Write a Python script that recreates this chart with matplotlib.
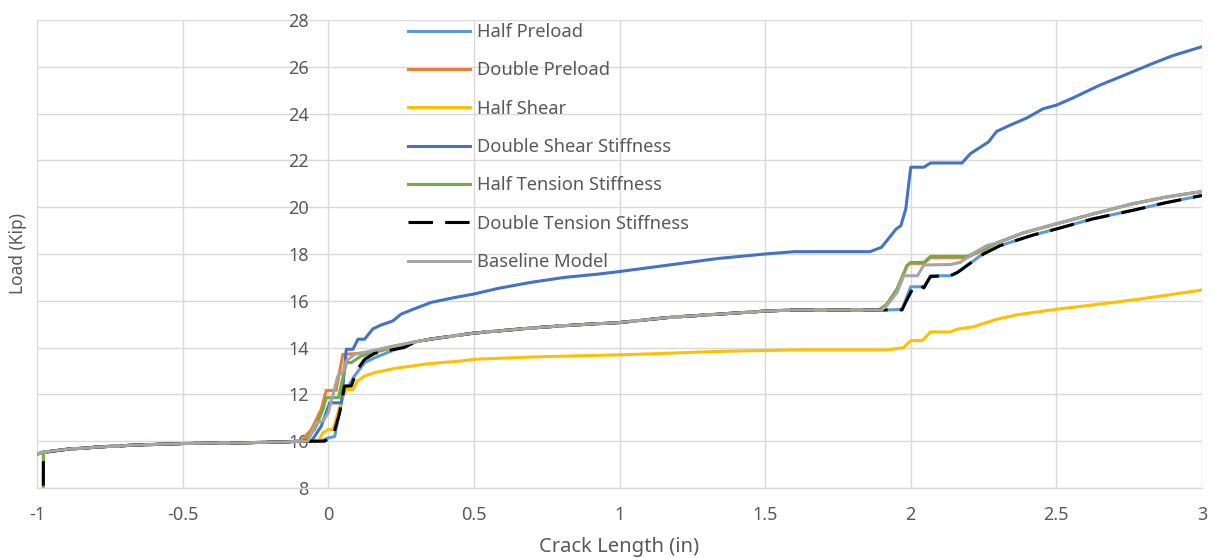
import matplotlib
matplotlib.use("Agg")
import matplotlib.pyplot as plt
import numpy as np

# ---------------- data ----------------
# shared start of the curves (x < -0.1)
start_x = [-1.0, -0.98]
start_y = [9.44, 9.53]
drop_x = [-0.98, -0.978]          # tension-stiffness runs start from zero load
drop_y = [0.0, 9.52]
left_x = [-0.9, -0.78, -0.67, -0.5, -0.3, -0.15]
left_y = [9.65, 9.76, 9.83, 9.90, 9.93, 9.97]

# shared middle part (0.3 .. 1.89)
mid_x = [0.3, 0.35, 0.5, 0.7, 0.85, 1.0, 1.17, 1.34, 1.5, 1.6, 1.89]
mid_y = [14.25, 14.36, 14.62, 14.84, 14.97, 15.07, 15.29, 15.43, 15.56, 15.61, 15.61]

# shared tails after the second jump
upper_tail_x = [2.295, 2.386, 2.5, 2.625, 2.76, 2.875, 3.0]
upper_tail_y = [18.47, 18.90, 19.29, 19.71, 20.14, 20.43, 20.67]
lower_tail_x = [2.307, 2.42, 2.5, 2.625, 2.76, 2.875, 3.0]
lower_tail_y = [18.36, 18.81, 19.07, 19.50, 19.86, 20.19, 20.50]

# Half Preload
hp_j0_x = [-0.1, -0.024, 0.0, 0.022, 0.05, 0.062, 0.09, 0.125, 0.16, 0.216]
hp_j0_y = [10.0, 10.02, 10.14, 10.2, 11.93, 12.2, 12.79, 13.36, 13.57, 13.85]
hp_j2_x = [1.918, 1.97, 2.0, 2.045, 2.068, 2.136, 2.16, 2.216, 2.25]
hp_j2_y = [15.61, 15.63, 16.6, 16.6, 17.07, 17.07, 17.21, 17.71, 18.04]

# Double Preload
dp_j0_x = [-0.093, -0.058, -0.024, -0.007, 0.027, 0.05, 0.113, 0.16, 0.2]
dp_j0_y = [10.0, 10.5, 11.36, 12.17, 12.17, 13.71, 13.76, 13.86, 14.0]
dp_j2_x = [1.89, 1.918, 1.953, 1.987, 2.0, 2.045, 2.068, 2.193, 2.239]
dp_j2_y = [15.61, 15.86, 16.5, 17.5, 17.6, 17.6, 17.85, 17.85, 18.12]

# Half Shear
hs_x = [-0.1, -0.035, -0.018, 0.0, 0.016, 0.05, 0.062, 0.085, 0.1, 0.125, 0.16,
        0.228, 0.285, 0.342, 0.457, 0.5, 0.7, 1.0, 1.17, 1.34, 1.6, 1.92, 1.975,
        2.0, 2.04, 2.068, 2.136, 2.16, 2.216, 2.25, 2.295, 2.364, 2.5, 2.65,
        2.784, 2.9, 3.0]
hs_y = [10.0, 10.0, 10.36, 10.5, 10.5, 11.93, 12.21, 12.21, 12.57, 12.79, 12.93,
        13.11, 13.21, 13.31, 13.43, 13.5, 13.6, 13.69, 13.76, 13.84, 13.9, 13.9, 14.0,
        14.3, 14.3, 14.67, 14.67, 14.79, 14.89, 15.03, 15.21, 15.4, 15.64, 15.86,
        16.07, 16.28, 16.46]

# Double Shear Stiffness
ds_x = [-0.1, -0.058, -0.024, 0.005, 0.045, 0.062, 0.085, 0.102, 0.125, 0.153,
        0.18, 0.222, 0.25, 0.284, 0.353, 0.434, 0.5, 0.583, 0.697, 0.811, 0.926,
        1.0, 1.17, 1.34, 1.5, 1.6, 1.86, 1.9, 1.95, 1.966, 1.983, 2.0, 2.045,
        2.068, 2.176, 2.205, 2.267, 2.295, 2.34, 2.398, 2.455, 2.5, 2.557, 2.648,
        2.739, 2.83, 2.898, 3.0]
ds_y = [10.0, 10.0, 10.64, 11.64, 11.64, 13.93, 13.93, 14.36, 14.36, 14.8,
        14.96, 15.14, 15.43, 15.6, 15.93, 16.14, 16.29, 16.53, 16.79, 17.0, 17.14,
        17.25, 17.53, 17.81, 18.0, 18.1, 18.1, 18.29, 19.07, 19.21, 19.93, 21.71, 21.71,
        21.89, 21.89, 22.29, 22.79, 23.24, 23.5, 23.81, 24.21, 24.36, 24.67, 25.21,
        25.67, 26.14, 26.47, 26.86]

# Half Tension Stiffness
ht_j0_x = [-0.08, -0.047, -0.018, -0.007, 0.035, 0.062, 0.079, 0.113, 0.18, 0.22]
ht_j0_y = [10.0, 10.5, 11.36, 11.86, 11.86, 13.36, 13.36, 13.64, 13.86, 14.0]
ht_j2_x = [1.895, 1.918, 1.953, 1.987, 2.0, 2.045, 2.068, 2.193, 2.239]
ht_j2_y = [15.61, 15.86, 16.5, 17.5, 17.64, 17.64, 17.9, 17.9, 18.14]

# Double Tension Stiffness
dt_j0_x = [-0.1, -0.013, 0.016, 0.039, 0.056, 0.079, 0.1, 0.125, 0.16, 0.216, 0.26]
dt_j0_y = [10.0, 10.0, 10.21, 11.21, 12.36, 12.36, 13.07, 13.5, 13.76, 13.9, 14.0]
dt_j2_x = [1.97, 1.985, 2.006, 2.025, 2.045, 2.068, 2.136, 2.16, 2.216, 2.25]
dt_j2_y = [15.61, 16.0, 16.5, 16.7, 16.55, 17.04, 17.07, 17.21, 17.71, 18.0]

# Baseline Model
bl_j0_x = [-0.1, -0.07, -0.041, -0.018, 0.0, 0.033, 0.05, 0.062, 0.09, 0.148, 0.228]
bl_j0_y = [10.0, 10.0, 10.79, 10.86, 11.21, 12.79, 12.93, 13.43, 13.71, 13.86, 14.07]
bl_j2_x = [1.9, 1.918, 1.953, 1.976, 2.023, 2.045, 2.136, 2.17, 2.216, 2.261]
bl_j2_y = [15.61, 15.8, 16.36, 17.07, 17.07, 17.53, 17.55, 17.64, 18.04, 18.36]

labels = ["Half Preload", "Double Preload", "Half Shear", "Double Shear Stiffness",
          "Half Tension Stiffness", "Double Tension Stiffness", "Baseline Model"]
colors = ["#5B9BD5", "#ED7D31", "#FFC000", "#4472C4", "#70AD47", "#000000", "#A5A5A5"]

xticks = [-1, -0.5, 0, 0.5, 1, 1.5, 2, 2.5, 3]
xticklabels = ["-1", "-0.5", "0", "0.5", "1", "1.5", "2", "2.5", "3"]
yticks = [8, 10, 12, 14, 16, 18, 20, 22, 24, 26, 28]

# ---------------- assemble series ----------------
def cat(*parts):
    out = []
    for p in parts:
        out += list(p)
    return out

series = [
    (cat(start_x, left_x, hp_j0_x, mid_x, hp_j2_x, lower_tail_x),
     cat(start_y, left_y, hp_j0_y, mid_y, hp_j2_y, lower_tail_y)),
    (cat(start_x, left_x, dp_j0_x, mid_x, dp_j2_x, upper_tail_x),
     cat(start_y, left_y, dp_j0_y, mid_y, dp_j2_y, upper_tail_y)),
    (cat(start_x, left_x, hs_x), cat(start_y, left_y, hs_y)),
    (cat(start_x, left_x, ds_x), cat(start_y, left_y, ds_y)),
    (cat(drop_x, left_x, ht_j0_x, mid_x, ht_j2_x, upper_tail_x),
     cat(drop_y, left_y, ht_j0_y, mid_y, ht_j2_y, upper_tail_y)),
    (cat(drop_x, left_x, dt_j0_x, mid_x, dt_j2_x, lower_tail_x),
     cat(drop_y, left_y, dt_j0_y, mid_y, dt_j2_y, lower_tail_y)),
    (cat(start_x, left_x, bl_j0_x, mid_x, bl_j2_x, upper_tail_x),
     cat(start_y, left_y, bl_j0_y, mid_y, bl_j2_y, upper_tail_y)),
]

# ---------------- figure ----------------
plt.rcParams['font.family'] = ['Noto Sans', 'DejaVu Sans']
TXT = "#595959"
GRID = "#D9D9D9"

W, H = 1213, 558
fig = plt.figure(figsize=(W / 100, H / 100), dpi=100)
ax = fig.add_axes([37 / W, 1 - 488 / H, 1165 / W, 468 / H])

for (xs, ys), lab, col in zip(series, labels, colors):
    if lab == "Double Tension Stiffness":
        ax.plot(xs, ys, color=col, lw=2.2, label=lab, dashes=(8, 4),
                solid_joinstyle='miter')
    else:
        ax.plot(xs, ys, color=col, lw=2.2, label=lab)

ax.set_xlim(-1, 3)
ax.set_ylim(8, 28)
ax.set_xticks(xticks)
ax.set_xticklabels(xticklabels)
ax.set_yticks(yticks)
ax.grid(True, color=GRID, lw=1.0)
ax.set_axisbelow(True)

for s in ["top", "right"]:
    ax.spines[s].set_visible(False)
ax.spines["left"].set_position(("data", 0))
ax.spines["left"].set_visible(False)
ax.spines["bottom"].set_color(GRID)
ax.spines["bottom"].set_linewidth(1.0)

ax.tick_params(axis="both", length=0, labelsize=13, colors=TXT)
ax.tick_params(axis="y", pad=14)
ax.tick_params(axis="x", pad=13)

ax.set_xlabel("Crack Length (in)", fontsize=14.5, color=TXT)
ax.xaxis.set_label_coords(0.5, (488 - 547) / 468)
ax.xaxis.label.set_va("center")
ax.set_ylabel("Load (Kip)", fontsize=12.5, color=TXT)
ax.yaxis.set_label_coords((18 - 37) / 1165, 0.5)
ax.yaxis.label.set_va("center")

leg = ax.legend(loc="upper left", bbox_to_anchor=(408 / W, 1 - 23 / H),
                bbox_transform=fig.transFigure, frameon=False, fontsize=13.2,
                handlelength=3.4, handletextpad=0.38, labelspacing=1.11,
                borderpad=0, borderaxespad=0)
for t in leg.get_texts():
    t.set_color(TXT)

fig.savefig("out.png", dpi=100)
